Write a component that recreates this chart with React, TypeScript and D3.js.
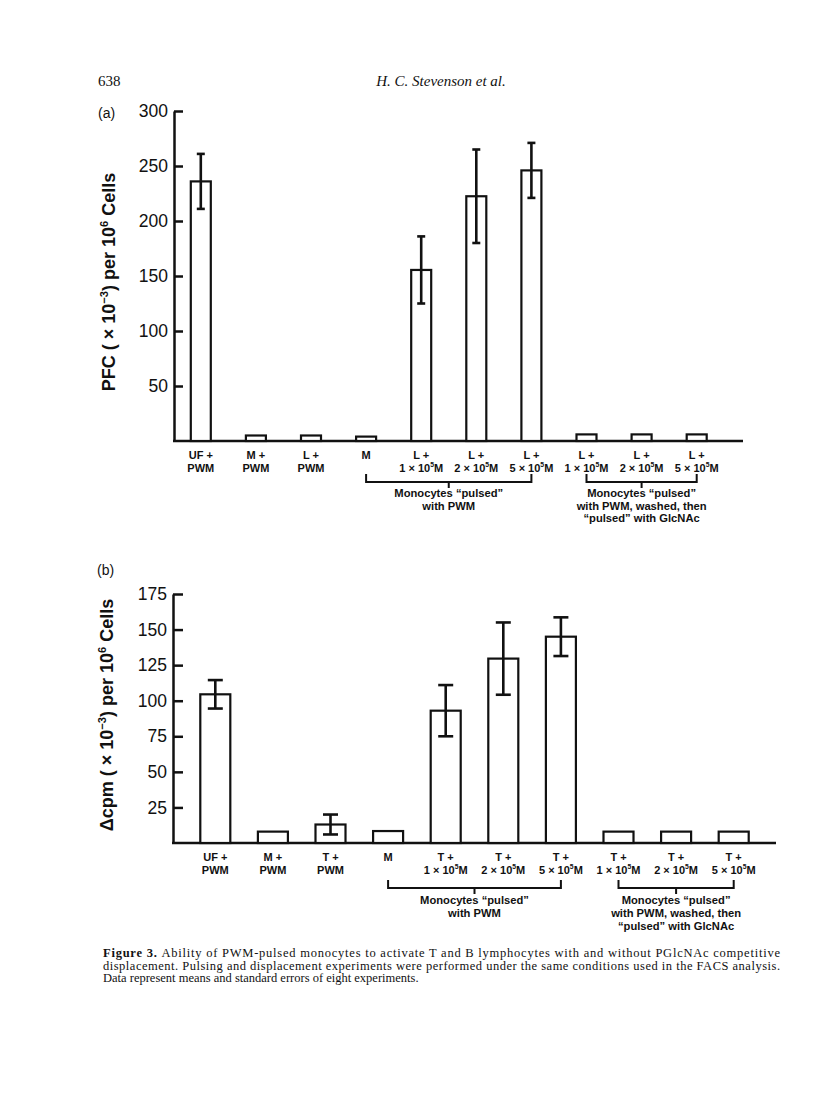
import React, { useEffect, useRef } from 'react';
import * as d3 from 'd3';

// categories (two-line tick labels), {..} marks a superscript
const topA = ['UF +', 'M +', 'L +', 'M', 'L +', 'L +', 'L +', 'L +', 'L +', 'L +'];
const topB = ['UF +', 'M +', 'T +', 'M', 'T +', 'T +', 'T +', 'T +', 'T +', 'T +'];
const bottomLabels = ['PWM', 'PWM', 'PWM', '', '1 × 10{5}M', '2 × 10{5}M', '5 × 10{5}M', '1 × 10{5}M', '2 × 10{5}M', '5 × 10{5}M'];

// panel (a): PFC
const valuesA = [236, 5, 5, 4, 155.5, 222.5, 246, 6, 6, 6];
const semA = [25, 0, 0, 0, 30.5, 42.5, 25, 0, 0, 0];
const ticksA = [50, 100, 150, 200, 250, 300];

// panel (b): delta cpm
const valuesB = [104.5, 8, 13, 8.4, 93, 129.6, 145, 8, 8, 8];
const semB = [10, 0, 7, 0, 18, 25.4, 13.6, 0, 0, 0];
const ticksB = [25, 50, 75, 100, 125, 150, 175];

const groupLeft = ['Monocytes “pulsed”', 'with PWM'];
const groupRight = ['Monocytes “pulsed”', 'with PWM, washed, then', '“pulsed” with GlcNAc'];

const caption = [
  'Ability of PWM-pulsed monocytes to activate T and B lymphocytes with and without PGlcNAc competitive',
  'displacement. Pulsing and displacement experiments were performed under the same conditions used in the FACS analysis.',
  'Data represent means and standard errors of eight experiments.',
];

const SANS = '"Liberation Sans", Arial, Helvetica, sans-serif';
const SERIF = '"Liberation Serif", "Times New Roman", serif';

// writes text with {sup} parts as raised tspans
function rich(sel: any, str: string, size: number) {
  const parts = str.split(/\{([^}]*)\}/);
  let raised = false;
  parts.forEach((p, i) => {
    if (!p) return;
    const t = sel.append('tspan').text(p);
    if (i % 2 === 1) {
      t.attr('font-size', size * 0.62).attr('dy', -size * 0.4);
      raised = true;
    } else if (raised) {
      t.attr('dy', size * 0.4);
      raised = false;
    }
  });
}

function drawPanel(svg: any, o: any) {
  const g = svg.append('g');

  const x = d3.scaleBand()
    .domain(d3.range(o.values.length).map(String))
    .range(o.xRange)
    .paddingInner(o.pad)
    .paddingOuter(o.pad / 2);

  const y = d3.scaleLinear().domain([0, o.yMax]).range(o.yRange);
  const cx = (i: number) => (x(String(i)) as number) + x.bandwidth() / 2;

  // y axis, ticks pointing inward
  const ax = g.append('g')
    .attr('transform', `translate(${o.axisX},0)`)
    .call(d3.axisLeft(y).tickValues(o.ticks).tickSizeInner(-o.tickLen).tickSizeOuter(0).tickPadding(6));
  ax.select('.domain').attr('stroke', '#111').attr('stroke-width', 2.5);
  ax.selectAll('.tick line').attr('stroke', '#111').attr('stroke-width', 2.5);
  ax.selectAll('.tick text')
    .attr('font-family', SANS)
    .attr('font-size', 17.5)
    .attr('fill', '#111');

  // baseline
  g.append('line')
    .attr('x1', o.axisX - 1).attr('x2', o.axisEnd)
    .attr('y1', y(0)).attr('y2', y(0))
    .attr('stroke', '#111').attr('stroke-width', 2.5);

  // bars
  g.selectAll('.bar')
    .data(o.values)
    .enter().append('rect')
    .attr('class', 'bar')
    .attr('x', (_d: number, i: number) => x(String(i)))
    .attr('y', (d: number) => y(d))
    .attr('width', x.bandwidth())
    .attr('height', (d: number) => y(0) - y(d))
    .attr('fill', 'white')
    .attr('stroke', '#111')
    .attr('stroke-width', 2.2);

  // error bars
  const errs = o.values.map((v: number, i: number) => ({ v, s: o.sem[i], i })).filter((d: any) => d.s > 0);
  const eg = g.selectAll('.err').data(errs).enter().append('g').attr('class', 'err')
    .attr('stroke', '#111').attr('stroke-width', 2.6);
  eg.append('line')
    .attr('x1', (d: any) => cx(d.i)).attr('x2', (d: any) => cx(d.i))
    .attr('y1', (d: any) => y(d.v - d.s)).attr('y2', (d: any) => y(d.v + d.s));
  [1, -1].forEach((sg) => {
    eg.append('line')
      .attr('x1', (d: any) => cx(d.i) - o.cap).attr('x2', (d: any) => cx(d.i) + o.cap)
      .attr('y1', (d: any) => y(d.v + sg * d.s)).attr('y2', (d: any) => y(d.v + sg * d.s));
  });

  // category labels
  const base = y(0);
  o.top.forEach((t: string, i: number) => {
    const tx = g.append('text')
      .attr('x', cx(i)).attr('y', base + 18)
      .attr('text-anchor', 'middle')
      .attr('font-family', SANS).attr('font-weight', 'bold').attr('font-size', 11)
      .attr('fill', '#111');
    rich(tx, t, 11);
    const bx = g.append('text')
      .attr('x', cx(i)).attr('y', base + 30.5)
      .attr('text-anchor', 'middle')
      .attr('font-family', SANS).attr('font-weight', 'bold').attr('font-size', 11)
      .attr('fill', '#111');
    rich(bx, bottomLabels[i], 11);
  });

  // group brackets
  const brackets = [
    { a: 3, b: 6, lines: groupLeft },
    { a: 7, b: 9, lines: groupRight },
  ];
  brackets.forEach((br) => {
    const x0 = cx(br.a);
    const x1 = cx(br.b);
    const mid = (x0 + x1) / 2;
    const by = base + o.bracketDy;
    g.append('path')
      .attr('d', `M${x0},${by - 8}V${by}H${x1}V${by - 8}M${mid},${by}V${by + 6}`)
      .attr('fill', 'none').attr('stroke', '#111').attr('stroke-width', 2);
    br.lines.forEach((l, k) => {
      g.append('text')
        .attr('x', mid).attr('y', by + o.textDy + k * o.lineGap)
        .attr('text-anchor', 'middle')
        .attr('font-family', SANS).attr('font-weight', 'bold').attr('font-size', 11.2)
        .attr('fill', '#111')
        .text(l);
    });
  });

  // y title
  const yt = g.append('text')
    .attr('transform', `translate(${o.titleX},${o.titleY}) rotate(-90)`)
    .attr('text-anchor', 'middle')
    .attr('font-family', SANS).attr('font-weight', 'bold').attr('font-size', 18)
    .attr('fill', '#111');
  rich(yt, o.title, 18);

  // panel letter
  g.append('text')
    .attr('x', o.letterX).attr('y', o.letterY)
    .attr('font-family', SANS).attr('font-size', 14).attr('fill', '#111')
    .text(o.letter);
}

const App = () => {
  const svgRef = useRef<SVGSVGElement>(null);

  useEffect(() => {
    const svg = d3.select(svgRef.current);
    svg.selectAll('*').remove();

    // page header
    svg.append('text')
      .attr('x', 98).attr('y', 86)
      .attr('font-family', SERIF).attr('font-size', 15).attr('fill', '#111')
      .text('638');
    svg.append('text')
      .attr('x', 441).attr('y', 86)
      .attr('text-anchor', 'middle')
      .attr('font-family', SERIF).attr('font-style', 'italic').attr('font-size', 15).attr('fill', '#111')
      .text('H. C. Stevenson et al.');

    drawPanel(svg, {
      values: valuesA, sem: semA, ticks: ticksA, top: topA,
      yMax: 300, yRange: [441, 111],
      xRange: [173.25, 724.25], pad: 0.637,
      axisX: 174, axisEnd: 743, tickLen: 9, cap: 4,
      bracketDy: 41, textDy: 15, lineGap: 12.5,
      title: 'PFC ( × 10{−3}) per 10{6} Cells', titleX: 115, titleY: 282,
      letter: '(a)', letterX: 98, letterY: 118,
    });

    drawPanel(svg, {
      values: valuesB, sem: semB, ticks: ticksB, top: topB,
      yMax: 175, yRange: [843, 594],
      xRange: [186.5, 762.5], pad: 0.479,
      axisX: 173, axisEnd: 776, tickLen: 10, cap: 7.5,
      bracketDy: 45, textDy: 16, lineGap: 13,
      title: 'Δcpm ( × 10{−3}) per 10{6} Cells', titleX: 113, titleY: 715,
      letter: '(b)', letterX: 97, letterY: 575,
    });

    // figure caption
    const c1 = svg.append('text')
      .attr('x', 103).attr('y', 957)
      .attr('font-family', SERIF).attr('font-size', 12.5).attr('fill', '#111')
      .attr('textLength', 677).attr('lengthAdjust', 'spacing');
    c1.append('tspan').attr('font-weight', 'bold').text('Figure 3. ');
    c1.append('tspan').text(caption[0]);
    svg.append('text')
      .attr('x', 103).attr('y', 969.5)
      .attr('font-family', SERIF).attr('font-size', 12.5).attr('fill', '#111')
      .attr('textLength', 677).attr('lengthAdjust', 'spacing')
      .text(caption[1]);
    svg.append('text')
      .attr('x', 103).attr('y', 982)
      .attr('font-family', SERIF).attr('font-size', 12.5).attr('fill', '#111')
      .text(caption[2]);
  }, []);

  return (
    <svg
      ref={svgRef}
      width={816}
      height={1096}
      style={{ position: 'absolute', left: 0, top: 0, background: 'white' }}
    />
  );
};

export default App;
